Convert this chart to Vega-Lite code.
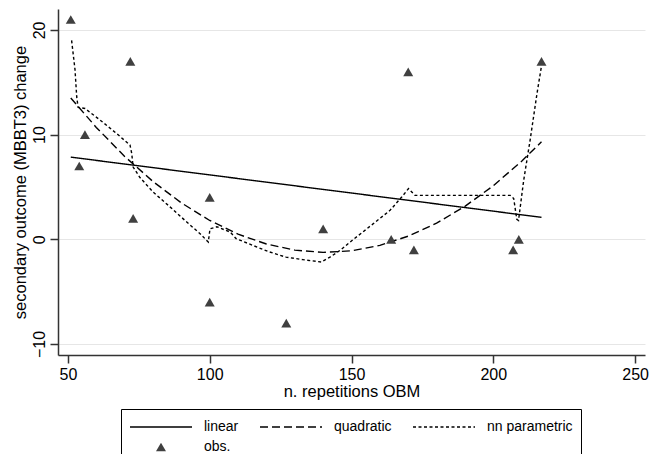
{
  "$schema": "https://vega.github.io/schema/vega-lite/v6.json",
  "width": 587,
  "height": 346,
  "autosize": {"type": "none"},
  "padding": {"left": 58, "top": 9, "right": 6, "bottom": 99},
  "background": "white",
  "config": {"view": {"stroke": null}, "font": "Liberation Sans"},
  "datasets": {
    "fits": [
      {"series": "linear", "x": 51, "y": 7.85},
      {"series": "linear", "x": 217, "y": 2.1},
      {"series": "quadratic", "x": 51, "y": 13.5},
      {"series": "quadratic", "x": 60, "y": 10.69},
      {"series": "quadratic", "x": 70, "y": 7.92},
      {"series": "quadratic", "x": 80, "y": 5.52},
      {"series": "quadratic", "x": 90, "y": 3.48},
      {"series": "quadratic", "x": 100, "y": 1.8},
      {"series": "quadratic", "x": 110, "y": 0.49},
      {"series": "quadratic", "x": 120, "y": -0.45},
      {"series": "quadratic", "x": 130, "y": -1.03},
      {"series": "quadratic", "x": 140, "y": -1.25},
      {"series": "quadratic", "x": 150, "y": -1.1},
      {"series": "quadratic", "x": 160, "y": -0.58},
      {"series": "quadratic", "x": 170, "y": 0.3},
      {"series": "quadratic", "x": 180, "y": 1.54},
      {"series": "quadratic", "x": 190, "y": 3.15},
      {"series": "quadratic", "x": 200, "y": 5.12},
      {"series": "quadratic", "x": 210, "y": 7.46},
      {"series": "quadratic", "x": 217, "y": 9.32},
      {"series": "nn parametric", "x": 51.3, "y": 19.0},
      {"series": "nn parametric", "x": 52.5, "y": 16.2},
      {"series": "nn parametric", "x": 53.1, "y": 13.6},
      {"series": "nn parametric", "x": 53.6, "y": 12.6},
      {"series": "nn parametric", "x": 56, "y": 12.5},
      {"series": "nn parametric", "x": 61.3, "y": 11.4},
      {"series": "nn parametric", "x": 67.2, "y": 10.1},
      {"series": "nn parametric", "x": 71.9, "y": 9.0},
      {"series": "nn parametric", "x": 72.5, "y": 8.2},
      {"series": "nn parametric", "x": 73.0, "y": 6.9},
      {"series": "nn parametric", "x": 75.4, "y": 5.9},
      {"series": "nn parametric", "x": 80.1, "y": 4.5},
      {"series": "nn parametric", "x": 86, "y": 3.1},
      {"series": "nn parametric", "x": 91.9, "y": 1.65},
      {"series": "nn parametric", "x": 96.6, "y": 0.54},
      {"series": "nn parametric", "x": 99.5, "y": -0.26},
      {"series": "nn parametric", "x": 100.1, "y": 1.0},
      {"series": "nn parametric", "x": 102.5, "y": 1.2},
      {"series": "nn parametric", "x": 107.2, "y": 0.7},
      {"series": "nn parametric", "x": 109.3, "y": 0.07},
      {"series": "nn parametric", "x": 115.1, "y": -0.57},
      {"series": "nn parametric", "x": 121, "y": -1.2},
      {"series": "nn parametric", "x": 126.9, "y": -1.7},
      {"series": "nn parametric", "x": 132.8, "y": -1.94},
      {"series": "nn parametric", "x": 139.3, "y": -2.17},
      {"series": "nn parametric", "x": 142.4, "y": -1.7},
      {"series": "nn parametric", "x": 146, "y": -1.05},
      {"series": "nn parametric", "x": 150.7, "y": 0.0},
      {"series": "nn parametric", "x": 155.4, "y": 1.0},
      {"series": "nn parametric", "x": 163.6, "y": 2.77},
      {"series": "nn parametric", "x": 167.7, "y": 4.04},
      {"series": "nn parametric", "x": 170.1, "y": 4.84},
      {"series": "nn parametric", "x": 172.4, "y": 4.2},
      {"series": "nn parametric", "x": 184.8, "y": 4.2},
      {"series": "nn parametric", "x": 206, "y": 4.2},
      {"series": "nn parametric", "x": 207.2, "y": 3.9},
      {"series": "nn parametric", "x": 208.3, "y": 1.9},
      {"series": "nn parametric", "x": 208.9, "y": 1.8},
      {"series": "nn parametric", "x": 210.7, "y": 5.6},
      {"series": "nn parametric", "x": 213, "y": 9.5},
      {"series": "nn parametric", "x": 215.4, "y": 13.9},
      {"series": "nn parametric", "x": 216.9, "y": 16.4}
    ],
    "obs": [
      {"series": "obs.", "x": 51, "y": 21},
      {"series": "obs.", "x": 72, "y": 17},
      {"series": "obs.", "x": 56, "y": 10},
      {"series": "obs.", "x": 54, "y": 7},
      {"series": "obs.", "x": 100, "y": 4},
      {"series": "obs.", "x": 73, "y": 2},
      {"series": "obs.", "x": 100, "y": -6},
      {"series": "obs.", "x": 127, "y": -8},
      {"series": "obs.", "x": 140, "y": 1},
      {"series": "obs.", "x": 170, "y": 16},
      {"series": "obs.", "x": 217, "y": 17},
      {"series": "obs.", "x": 164, "y": 0},
      {"series": "obs.", "x": 172, "y": -1},
      {"series": "obs.", "x": 207, "y": -1},
      {"series": "obs.", "x": 209, "y": 0}
    ]
  },
  "layer": [
    {
      "data": {"name": "fits"},
      "mark": {"type": "line", "color": "black", "strokeWidth": 1.4},
      "encoding": {
        "x": {
          "field": "x", "type": "quantitative",
          "scale": {"domain": [46.5, 253.5], "nice": false, "zero": false},
          "axis": {
            "values": [50, 100, 150, 200, 250], "grid": false,
            "tickSize": 8, "tickWidth": 1.5, "tickColor": "#333333",
            "domainColor": "#333333", "domainWidth": 1.5,
            "labelFontSize": 16, "labelColor": "black", "labelPadding": 3, "labelFlush": false,
            "title": "n. repetitions OBM", "titleFontSize": 16.5, "titleFontWeight": "normal",
            "titleColor": "black", "titlePadding": 1
          }
        },
        "y": {
          "field": "y", "type": "quantitative",
          "scale": {"domain": [-11.05, 22], "nice": false, "zero": false},
          "axis": {
            "values": [-10, 0, 10, 20], "grid": true, "gridColor": "#e6e6e6", "gridWidth": 1,
            "tickSize": 8, "tickWidth": 1.5, "tickColor": "#333333",
            "domainColor": "#333333", "domainWidth": 1.5,
            "labelFontSize": 16, "labelColor": "black", "labelPadding": 3, "labelFlush": false,
            "labelAngle": -90, "labelAlign": "center", "labelBaseline": "bottom",
            "title": "secondary outcome (MBBT3) change", "titleFontSize": 16.5, "titleFontWeight": "normal",
            "titleColor": "black", "titlePadding": 3
          }
        },
        "strokeDash": {
          "field": "series", "type": "nominal",
          "scale": {
            "domain": ["linear", "quadratic", "nn parametric", "obs."],
            "range": [[1, 0], [8, 4], [3, 2.5], [1, 0]]
          },
          "legend": {
            "title": null, "orient": "none", "legendX": 63, "legendY": 400,
            "direction": "horizontal", "columns": 3, "columnPadding": 20, "rowPadding": -2,
            "clipHeight": 20, "symbolSize": 3844, "symbolType": "stroke",
            "symbolStrokeColor": "black", "symbolStrokeWidth": 1.4,
            "labelFont": "Liberation Sans", "labelFontSize": 14, "labelColor": "black",
            "labelOffset": 11, "labelLimit": 0, "strokeColor": "black", "padding": 8,
            "fillColor": "white", "symbolOffset": 0, "gridAlign": "each",
            "encode": {
              "symbols": {
                "update": {
                  "fill": {"signal": "datum.value === 'obs.' ? '#404040' : 'transparent'"},
                  "stroke": {"signal": "datum.value === 'obs.' ? 'transparent' : 'black'"}
                }
              }
            }
          }
        }
      }
    },
    {
      "data": {"name": "obs"},
      "mark": {"type": "point", "filled": true, "color": "#404040", "size": 3844, "opacity": 1},
      "encoding": {
        "x": {"field": "x", "type": "quantitative"},
        "y": {"field": "y", "type": "quantitative"},
        "shape": {
          "field": "series", "type": "nominal",
          "scale": {
            "domain": ["linear", "quadratic", "nn parametric", "obs."],
            "range": ["stroke", "stroke", "stroke", "M0,-0.14L0.161,0.14L-0.161,0.14Z"]
          },
          "legend": {
            "title": null, "orient": "none", "legendX": 63, "legendY": 400,
            "direction": "horizontal", "columns": 3, "columnPadding": 20, "rowPadding": -2,
            "clipHeight": 20, "symbolSize": 3844, "symbolType": "stroke",
            "symbolStrokeColor": "black", "symbolStrokeWidth": 1.4,
            "labelFont": "Liberation Sans", "labelFontSize": 14, "labelColor": "black",
            "labelOffset": 11, "labelLimit": 0, "strokeColor": "black", "padding": 8,
            "fillColor": "white", "symbolOffset": 0, "gridAlign": "each",
            "encode": {
              "symbols": {
                "update": {
                  "fill": {"signal": "datum.value === 'obs.' ? '#404040' : 'transparent'"},
                  "stroke": {"signal": "datum.value === 'obs.' ? 'transparent' : 'black'"}
                }
              }
            }
          }
        }
      }
    }
  ]
}
